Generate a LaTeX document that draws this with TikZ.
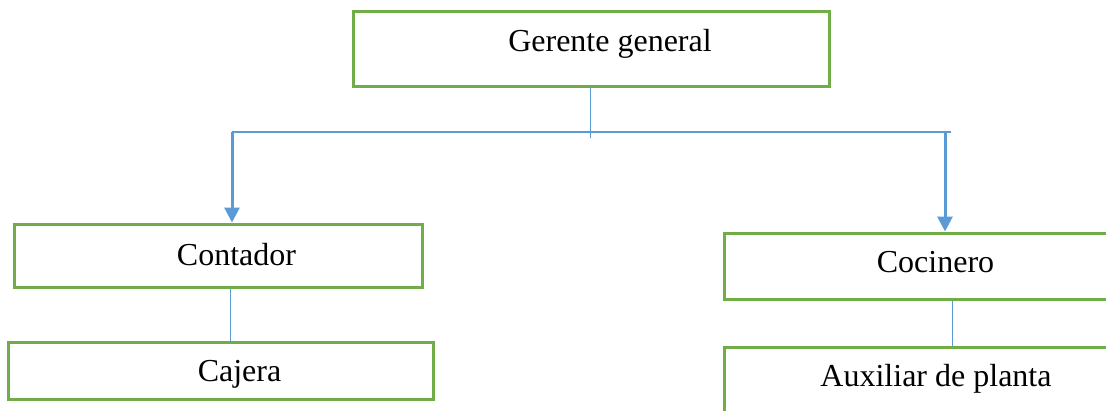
\documentclass[tikz,border=0pt]{standalone}
\usepackage{fontspec}
\setmainfont{Liberation Serif}
\usetikzlibrary{arrows.meta}
\definecolor{boxgreen}{HTML}{70AD47}
\definecolor{linkblue}{HTML}{5B9BD5}
\tikzset{
  orgbox/.style={draw=boxgreen, line width=3pt, rectangle, inner sep=0pt},
  orgtext/.style={anchor=base, inner sep=0pt, font=\fontsize{32}{38}\selectfont},
  thinlink/.style={draw=linkblue, line width=1.3pt},
  arrowlink/.style={draw=linkblue, line width=3pt, -{Triangle[width=15pt,length=15pt]}}
}
\begin{document}
\begin{tikzpicture}[x=1pt,y=-1pt]
\useasboundingbox (0,0) rectangle (1106,410);
\clip (0,0) rectangle (1106,410);
% boxes
\node[orgbox, minimum width=476pt, minimum height=75pt] (ger) at (591,48.5) {};
\node[orgbox, minimum width=408pt, minimum height=63pt] (cont) at (218,255.5) {};
\node[orgbox, minimum width=425pt, minimum height=57pt] (caj) at (220.5,370.5) {};
\node[orgbox, minimum width=386pt, minimum height=66pt] (coc) at (917,266) {};
\node[orgbox, minimum width=386pt, minimum height=67pt] (aux) at (917,380.5) {};
% texts
\node[orgtext] (tger) at (610,51.7) {Gerente general};
\node[orgtext] (tcont) at (236.5,265) {Contador};
\node[orgtext] (tcaj) at (239.5,381) {Cajera};
\node[orgtext] (tcoc) at (935.5,272.7) {Cocinero};
\node[orgtext] (taux) at (936,386.7) {Auxiliar de planta};
% connectors
\coordinate (gdown) at (590,138);
\coordinate (hL) at (232,132);
\coordinate (hR) at (951,132);
\coordinate (aR) at (945,132);
\draw[thinlink, line width=1pt] (ger.south -| gdown) -- (gdown);
\draw[thinlink] (hL) -- (hR);
\draw[arrowlink] (hL) -- (hL |- cont.north);
\draw[arrowlink] (aR) -- (aR |- coc.north);
\coordinate (cx) at (230,0);
\coordinate (kx) at (952,0);
\draw[thinlink, line width=1pt] (cont.south -| cx) -- (caj.north -| cx);
\draw[thinlink, line width=1pt] (coc.south -| kx) -- (aux.north -| kx);
\end{tikzpicture}
\end{document}
